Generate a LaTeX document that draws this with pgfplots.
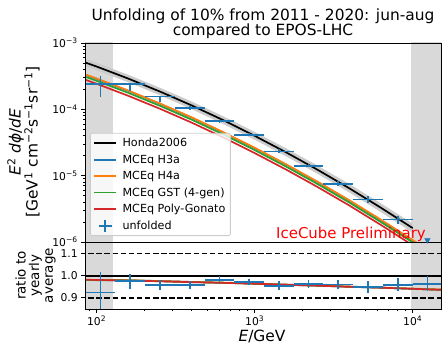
\documentclass[border=0pt]{standalone}
\usepackage{fontspec}
\setmainfont{DejaVu Sans}
\usepackage{pgfplots}
\usepackage{pgfplotstable}
\pgfplotsset{compat=1.18}

\definecolor{mplblue}{HTML}{1F77B4}
\definecolor{mplorange}{HTML}{FF7F0E}
\definecolor{mplgreen}{HTML}{2CA02C}
\definecolor{mplred}{HTML}{D62728}
\definecolor{spangray}{HTML}{D9D9D9}
\definecolor{bandgray}{HTML}{CCCCCC}

% Honda2006
\pgfplotstableread{
E      f
79.43  5.37e-4
100    4.42e-4
158.5  2.91e-4
251.2  1.858e-4
398.1  1.151e-4
631.0  6.89e-5
1000   3.99e-5
1585   2.24e-5
2512   1.22e-5
3981   6.43e-6
6310   3.27e-6
10000  1.62e-6
}\honda

% MCEq models
\pgfplotstableread{
E      h3a      h4a      gst      pg
79.43  3.52e-4  3.55e-4  3.28e-4  2.95e-4
100    2.89e-4  2.92e-4  2.70e-4  2.43e-4
158.5  1.905e-4 1.924e-4 1.775e-4 1.60e-4
251.2  1.216e-4 1.228e-4 1.133e-4 1.022e-4
398.1  7.53e-5  7.61e-5  7.02e-5  6.33e-5
631.0  4.50e-5  4.55e-5  4.20e-5  3.79e-5
1000   2.61e-5  2.64e-5  2.43e-5  2.19e-5
1585   1.465e-5 1.48e-5  1.366e-5 1.232e-5
2512   7.98e-6  8.06e-6  7.44e-6  6.71e-6
3981   4.20e-6  4.25e-6  3.92e-6  3.54e-6
6310   2.13e-6  2.16e-6  1.99e-6  1.80e-6
10000  1.05e-6  1.07e-6  9.88e-7  8.91e-7
15849  5.00e-7  5.12e-7  4.72e-7  4.26e-7
}\models

% ratio of models to yearly average
\pgfplotstableread{
E      h3a   h4a   gst   pg
79.43  0.981 0.982 0.981 0.982
100    0.981 0.981 0.980 0.981
158.5  0.979 0.980 0.979 0.978
251.2  0.976 0.976 0.975 0.975
398.1  0.972 0.972 0.971 0.971
631.0  0.968 0.969 0.968 0.968
1000   0.964 0.965 0.964 0.964
1585   0.960 0.960 0.959 0.959
2512   0.955 0.956 0.955 0.955
3981   0.951 0.951 0.950 0.950
6310   0.946 0.947 0.946 0.946
10000  0.941 0.942 0.941 0.941
15849  0.936 0.937 0.936 0.936
}\ratios

% unfolded spectrum
\pgfplotstableread{
E      f        exm   exp   fm       fp
105.9  2.42e-4  20.7  25.6  0.90e-4  0.77e-4
163.3  2.42e-4  31.8  39.5  0.52e-4  0.06e-4
251.8  1.556e-4 49.1  60.9  0.274e-4 0.044e-4
388.2  1.054e-4 75.7  93.8  0.06e-4  0.06e-4
598.4  6.65e-5  116.7 144.6 0.35e-5  0.35e-5
922.5  4.14e-5  179.9 223.0 0.24e-5  0.24e-5
1422   2.32e-5  277.3 343.7 0.13e-5  0.20e-5
2193   1.413e-5 427.6 530.0 0.063e-5 0.10e-5
3381   7.58e-6  659.3 817.2 0.50e-6  0.62e-6
5212   4.36e-6  1016  1260  0.48e-6  0.53e-6
8035   2.18e-6  1567  1942  0.28e-6  0.32e-6
}\unfolded

% unfolded ratio to yearly average
\pgfplotstableread{
E      r     exm   exp   rm    rp
105.9  0.924 20.7  25.6  0.095 0.095
163.3  0.976 31.8  39.5  0.034 0.034
251.8  0.959 49.1  60.9  0.023 0.023
388.2  0.958 75.7  93.8  0.019 0.019
598.4  0.982 116.7 144.6 0.015 0.015
922.5  0.971 179.9 223.0 0.015 0.015
1422   0.955 277.3 343.7 0.019 0.019
2193   0.963 427.6 530.0 0.019 0.019
3381   0.960 659.3 817.2 0.021 0.021
5212   0.948 1016  1260  0.027 0.027
8035   0.959 1567  1942  0.030 0.030
12390  0.963 2416  2995  0.034 0.034
}\unfratio

\begin{document}
\begin{tikzpicture}[font=\fontsize{10.8}{13}\selectfont]
\path[use as bounding box] (0,0) rectangle (448bp,354bp);
\pgfplotsset{
  every axis/.append style={
    scale only axis, width=356bp, xmode=log, xmin=84.5, xmax=15100,
    axis line style={line width=0.9bp},
    tick style={line width=0.9bp, black},
    tick align=outside, major tick length=3.8bp, minor tick length=2.2bp,
    xtick pos=left, ytick pos=left,
    tick label style={font=\fontsize{10.8}{13}\selectfont},
    axis on top,
  },
}
% ---------------- ratio panel ----------------
\begin{axis}[at={(85bp,45bp)}, anchor=south west, height=67bp,
  ymin=0.85, ymax=1.152,
  xtick={100,1000,10000},
  xticklabels={10\textsuperscript{2},10\textsuperscript{3},10\textsuperscript{4}},
  minor xtick={90,200,300,400,500,600,700,800,900,2000,3000,4000,5000,6000,7000,8000,9000},
  ytick={0.9,1.0,1.1}, yticklabels={0.9,1.0,1.1},
]
\addplot[fill=spangray, draw=none, forget plot] coordinates {(70,0.8) (127,0.8) (127,1.2) (70,1.2)} -- cycle;
\addplot[fill=spangray, draw=none, forget plot] coordinates {(9800,0.8) (20000,0.8) (20000,1.2) (9800,1.2)} -- cycle;
\addplot[black, line width=1.7bp, forget plot] coordinates {(70,1.0) (20000,1.0)};
\addplot[black, line width=1.7bp, dash pattern=on 5.5bp off 2.6bp, forget plot] coordinates {(70,1.1) (20000,1.1)};
\addplot[black, line width=1.7bp, dash pattern=on 5.5bp off 2.6bp, forget plot] coordinates {(70,0.9) (20000,0.9)};
\addplot[mplblue, line width=1.7bp, forget plot] table[x=E, y=h3a] {\ratios};
\addplot[mplorange, line width=1.7bp, forget plot] table[x=E, y=h4a] {\ratios};
\addplot[mplgreen, line width=1.7bp, forget plot] table[x=E, y=gst] {\ratios};
\addplot[mplred, line width=1.7bp, forget plot] table[x=E, y=pg] {\ratios};
\addplot[draw=none, mark=none, forget plot,
  error bars/.cd, x dir=both, x explicit, y dir=both, y explicit, error mark=none,
  error bar style={draw=mplblue, line width=1.7bp}]
  table[x=E, y=r, x error minus=exm, x error plus=exp, y error minus=rm, y error plus=rp] {\unfratio};
\end{axis}

% ---------------- spectrum panel ----------------
\begin{axis}[at={(85bp,112bp)}, anchor=south west, height=199bp,
  ymode=log, ymin=1e-6, ymax=1e-3,
  xmajorticks=false, xminorticks=false,
  ytick={1e-6,1e-5,1e-4,1e-3},
  yticklabels={10\textsuperscript{−6},10\textsuperscript{−5},10\textsuperscript{−4},10\textsuperscript{−3}},
  minor ytick={2e-6,3e-6,4e-6,5e-6,6e-6,7e-6,8e-6,9e-6,2e-5,3e-5,4e-5,5e-5,6e-5,7e-5,8e-5,9e-5,2e-4,3e-4,4e-4,5e-4,6e-4,7e-4,8e-4,9e-4},
  legend cell align=left,
  legend image code/.code={\draw[#1, line width=1.7bp] (0bp,0bp) -- (22bp,0bp);},
  legend style={at={(rel axis cs:0.014,0.03)}, anchor=south west,
    draw=black!20, line width=0.8bp, fill=white, fill opacity=0.8, text opacity=1,
    rounded corners=2bp, inner xsep=3bp, inner ysep=3bp, row sep=2.6bp,
    font=\fontsize{11.2}{12.5}\selectfont,
    /tikz/every odd column/.append style={column sep=3.5bp}},
]
\addplot[fill=spangray, draw=none, forget plot] coordinates {(70,1e-7) (127,1e-7) (127,1e-2) (70,1e-2)} -- cycle;
\addplot[fill=spangray, draw=none, forget plot] coordinates {(9800,1e-7) (20000,1e-7) (20000,1e-2) (9800,1e-2)} -- cycle;
% Honda2006 uncertainty band (upper edge, then lower edge backwards)
\addplot[fill=bandgray, draw=none, forget plot] coordinates {
 (79.43,6.12e-4) (100,5.04e-4) (158.5,3.32e-4) (251.2,2.12e-4) (398.1,1.316e-4) (631.0,7.89e-5)
 (1000,4.58e-5) (1585,2.58e-5) (2512,1.41e-5) (3981,7.46e-6) (6310,3.81e-6) (10000,1.90e-6)
 (10000,1.38e-6) (6310,2.81e-6) (3981,5.55e-6) (2512,1.058e-5) (1585,1.948e-5) (1000,3.48e-5)
 (631.0,6.02e-5) (398.1,1.008e-4) (251.2,1.631e-4) (158.5,2.56e-4) (100,3.89e-4) (79.43,4.73e-4)
} -- cycle;
\addplot[black, line width=1.7bp] table[x=E, y=f] {\honda};
\addlegendentry{Honda2006}
\addplot[mplblue, line width=1.7bp] table[x=E, y=h3a] {\models};
\addlegendentry{MCEq H3a}
\addplot[mplorange, line width=1.7bp] table[x=E, y=h4a] {\models};
\addlegendentry{MCEq H4a}
\addplot[mplgreen, line width=1.7bp] table[x=E, y=gst] {\models};
\addlegendentry{MCEq GST (4-gen)}
\addplot[mplred, line width=1.7bp] table[x=E, y=pg] {\models};
\addlegendentry{MCEq Poly-Gonato}
\addplot[draw=none, mark=none,
  legend image code/.code={\draw[mplblue, line width=1.7bp] (4.5bp,0bp) -- (17.5bp,0bp) (11bp,-6bp) -- (11bp,6bp);},
  error bars/.cd, x dir=both, x explicit, y dir=both, y explicit, error mark=none,
  error bar style={draw=mplblue, line width=1.7bp}]
  table[x=E, y=f, x error minus=exm, x error plus=exp, y error minus=fm, y error plus=fp] {\unfolded};
\addlegendentry{unfolded}
\addplot[only marks, mark=triangle*, mark size=3.2bp, forget plot,
  mark options={rotate=180, fill=mplblue, draw=mplblue}] coordinates {(12390,1.07e-6)};
\node[anchor=base west, text=red, font=\fontsize{15}{17}\selectfont, inner sep=0pt]
  at (rel axis cs:0.5365,0.02) {IceCube Preliminary};
\end{axis}

% labels and title
\node[rotate=90, align=center, font=\fontsize{15.5}{17}\selectfont] at (23.5bp,212bp)
  {\textit{E}\textsuperscript{2} \textit{dϕ}/\textit{dE}\\{[}GeV\textsuperscript{1} cm\textsuperscript{−2}s\textsuperscript{−1}sr\textsuperscript{−1}{]}};
\node[rotate=90, align=center, font=\fontsize{13.5}{13.6}\selectfont] at (35.5bp,78.5bp)
  {ratio to\\yearly\\average};
\node[anchor=base, font=\fontsize{15.5}{17}\selectfont] at (262bp,12.5bp) {\textit{E}/GeV};
\node[anchor=base, font=\fontsize{15.5}{17}\selectfont, inner sep=0pt] at (263bp,333.3bp)
  {Unfolding of 10\% from 2011 - 2020: jun-aug};
\node[anchor=base, font=\fontsize{15.5}{17}\selectfont, inner sep=0pt] at (263bp,318.3bp)
  {compared to EPOS-LHC};
\end{tikzpicture}
\end{document}
